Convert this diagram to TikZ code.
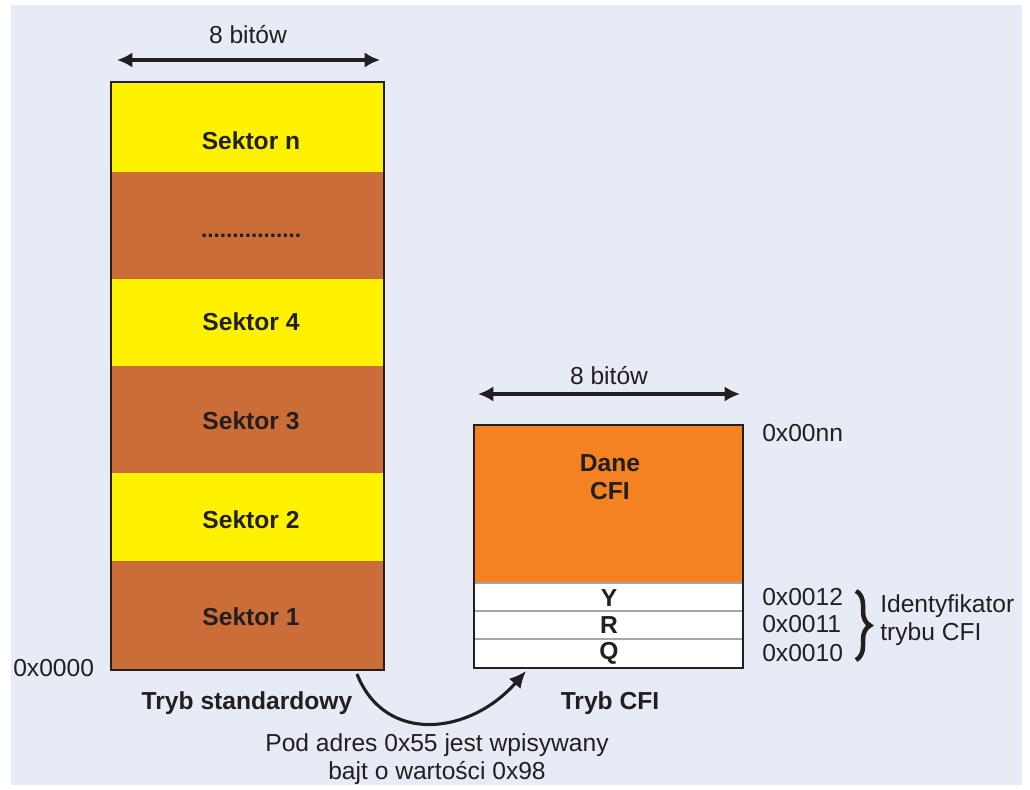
\documentclass[tikz,border=0pt]{standalone}
\usepackage{fontspec}
\setmainfont{Liberation Sans}
\usetikzlibrary{arrows.meta,decorations.pathreplacing}
\definecolor{tlo}{HTML}{E6EBF5}
\definecolor{zolty}{HTML}{FFF200}
\definecolor{braz}{HTML}{CB6D39}
\definecolor{pomar}{HTML}{F58220}
\definecolor{ciemny}{HTML}{231F20}
\tikzset{
  napis/.style={font=\fontsize{17.5}{19.5}\selectfont, text=ciemny, inner sep=0pt},
  gruby/.style={napis, font=\fontsize{17.5}{19.5}\selectfont\bfseries},
  adres/.style={napis, anchor=west},
  ramka/.style={draw=ciemny, line width=2.1pt, minimum width=#1, inner sep=0pt, outer sep=0pt},
  wymiar/.style={draw=ciemny, line width=2.2pt, {Latex[length=11pt,width=11pt]}-{Latex[length=11pt,width=11pt]}},
  luk/.style={draw=ciemny, line width=2.2pt, -{Latex[length=12pt,width=11pt]}}
}
\begin{document}
\begin{tikzpicture}[x=0.25mm,y=-0.25mm]
\useasboundingbox (0,0) rectangle (1030,790);
\fill[tlo] (11,5) rectangle (1022,785);

% tryb standardowy
\fill[zolty] (111,82) rectangle (384,172);
\fill[braz] (111,172) rectangle (384,279);
\fill[zolty] (111,279) rectangle (384,366);
\fill[braz] (111,366) rectangle (384,473);
\fill[zolty] (111,473) rectangle (384,561);
\fill[braz] (111,561) rectangle (384,670);
\node[ramka=68.25mm, minimum height=147mm] (std) at (247.5,376) {};

\node[gruby] (sn) at (251,141) {Sektor n};
\node[gruby, font=\fontsize{16}{18}\selectfont\bfseries] (kropki) at (251,236) {................};
\node[gruby] (s4) at (251,322) {Sektor 4};
\node[gruby] (s3) at (251,421) {Sektor 3};
\node[gruby] (s2) at (251,520) {Sektor 2};
\node[gruby] (s1) at (251,617) {Sektor 1};

\coordinate (wl) at (117,60);
\coordinate (wp) at (380,60);
\draw[wymiar] (wl) -- (wp);
\node[napis] (bity1) at (248,35) {8 bitów};
\node[adres] (a0) at (13,668) {0x0000};
\node[gruby] (tstd) at (247,703) {Tryb standardowy};

% tryb CFI
\fill[pomar] (474,425) rectangle (743,583);
\fill[white] (474,583) rectangle (743,668);
\draw[gray!70, line width=0.8pt] (474,583) -- (743,583);
\draw[gray!70, line width=0.8pt] (474,611) -- (743,611);
\draw[gray!70, line width=0.8pt] (474,639) -- (743,639);
\node[ramka=67.25mm, minimum height=60.75mm] (cfi) at (608.5,546.5) {};

\node[gruby, align=center] (dane) at (610,477) {Dane\\CFI};
\node[gruby] (y) at (609,598) {Y};
\node[gruby] (r) at (609,625) {R};
\node[gruby] (q) at (609,653) {Q};

\coordinate (cl) at (478,394);
\coordinate (cp) at (740,394);
\draw[wymiar] (cl) -- (cp);
\node[napis] (bity2) at (609,376) {8 bitów};

\node[adres] (ann) at (762,433) {0x00nn};
\node[adres] (a12) at (762,597) {0x0012};
\node[adres] (a11) at (762,624) {0x0011};
\node[adres] (a10) at (762,653) {0x0010};
\draw[ciemny, line width=3.2pt, decorate, decoration={brace, amplitude=10pt}] (856,591) -- (856,660);
\node[napis, align=left, anchor=west] (ident) at (880,620) {Identyfikator\\trybu CFI};
\node[gruby] (tcfi) at (610,703) {Tryb CFI};

% przejscie
\coordinate (start) at (357,674);
\coordinate (koniec) at (526,671);
\draw[luk] (start) .. controls (385,745) and (470,735) .. (koniec);
\node[napis, align=center] (opis) at (437,759) {Pod adres 0x55 jest wpisywany\\bajt o wartości 0x98};
\end{tikzpicture}
\end{document}
